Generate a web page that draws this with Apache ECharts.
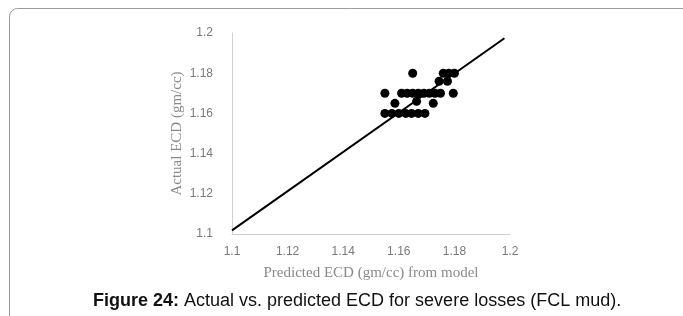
<!DOCTYPE html>
<html>
<head>
<meta charset="utf-8">
<script src="https://cdn.jsdelivr.net/npm/echarts@6/dist/echarts.min.js"></script>
<style>
  html, body { margin: 0; padding: 0; background: #fff; }
  #chartEle { width: 683px; height: 316px; }
</style>
</head>
<body>
<div id="chartEle"></div>
<script>
// predicted (x) vs actual (y) ECD values
var predictedEcd = [
    1.155, 1.1575, 1.16, 1.1625, 1.1646, 1.167, 1.1694,
    1.1586, 1.1664, 1.1724,
    1.155, 1.161, 1.163, 1.165, 1.167, 1.169, 1.171, 1.173, 1.175, 1.1796,
    1.1745, 1.1775,
    1.165, 1.176, 1.178, 1.18
];
var actualEcd = [
    1.16, 1.16, 1.16, 1.16, 1.16, 1.16, 1.16,
    1.165, 1.166, 1.165,
    1.17, 1.17, 1.17, 1.17, 1.17, 1.17, 1.17, 1.17, 1.17, 1.17,
    1.176, 1.176,
    1.18, 1.18, 1.18, 1.18
];
// fitted line end points
var lineX = [1.1, 1.198];
var lineY = [1.1018, 1.1974];
var axisTicks = [1.1, 1.12, 1.14, 1.16, 1.18, 1.2];

var scatterData = [];
predictedEcd.forEach(function (x, i) {
    scatterData.push([x, actualEcd[i]]);
});
var lineData = [];
lineX.forEach(function (x, i) {
    lineData.push([x, lineY[i]]);
});

var myChart = echarts.init(document.getElementById("chartEle"));

var option = {
    animation: false,
    title: {
        text: '{b|Figure 24:} Actual vs. predicted ECD for severe losses (FCL mud).',
        left: 88,
        top: 287,
        textStyle: {
            fontFamily: 'Liberation Sans',
            fontSize: 18,
            fontWeight: 'normal',
            color: '#111',
            rich: {
                b: { fontFamily: 'Liberation Sans', fontSize: 18, fontWeight: 'bold', color: '#111' }
            }
        }
    },
    graphic: [
        {
            type: 'rect',
            shape: { x: 9.5, y: 8.5, width: 700, height: 340, r: 8 },
            style: { fill: 'none', stroke: '#9a9a9a', lineWidth: 1 },
            silent: true
        }
    ],
    grid: {
        left: 232,
        right: 173,
        top: 33,
        bottom: 82
    },
    xAxis: {
        type: 'value',
        min: axisTicks[0],
        max: axisTicks[axisTicks.length - 1],
        interval: 0.02,
        name: 'Predicted ECD (gm/cc) from model',
        nameLocation: 'middle',
        nameGap: 32,
        nameTextStyle: { fontFamily: 'Liberation Serif', fontSize: 15, color: '#8a8a8a' },
        axisLine: { lineStyle: { color: '#d0d0d0', width: 1 } },
        axisTick: { show: false },
        splitLine: { show: false },
        axisLabel: { margin: 12, fontFamily: 'Liberation Sans', fontSize: 12, color: '#7a7a7a' }
    },
    yAxis: {
        type: 'value',
        min: axisTicks[0],
        max: axisTicks[axisTicks.length - 1],
        interval: 0.02,
        name: 'Actual ECD (gm/cc)',
        nameLocation: 'middle',
        nameGap: 47,
        nameMoveOverlap: false,
        nameTextStyle: { fontFamily: 'Liberation Serif', fontSize: 15, color: '#8a8a8a' },
        axisLine: { show: true, lineStyle: { color: '#d0d0d0', width: 1 } },
        axisTick: { show: false },
        splitLine: { show: false },
        axisLabel: { margin: 19, fontFamily: 'Liberation Sans', fontSize: 12, color: '#7a7a7a' }
    },
    series: [
        {
            type: 'line',
            data: lineData,
            showSymbol: false,
            lineStyle: { color: '#000', width: 2 },
            z: 3
        },
        {
            type: 'scatter',
            data: scatterData,
            symbolSize: 9,
            itemStyle: { color: '#000', opacity: 1 },
            z: 2
        }
    ]
};

myChart.setOption(option, true);
</script>
</body>
</html>
